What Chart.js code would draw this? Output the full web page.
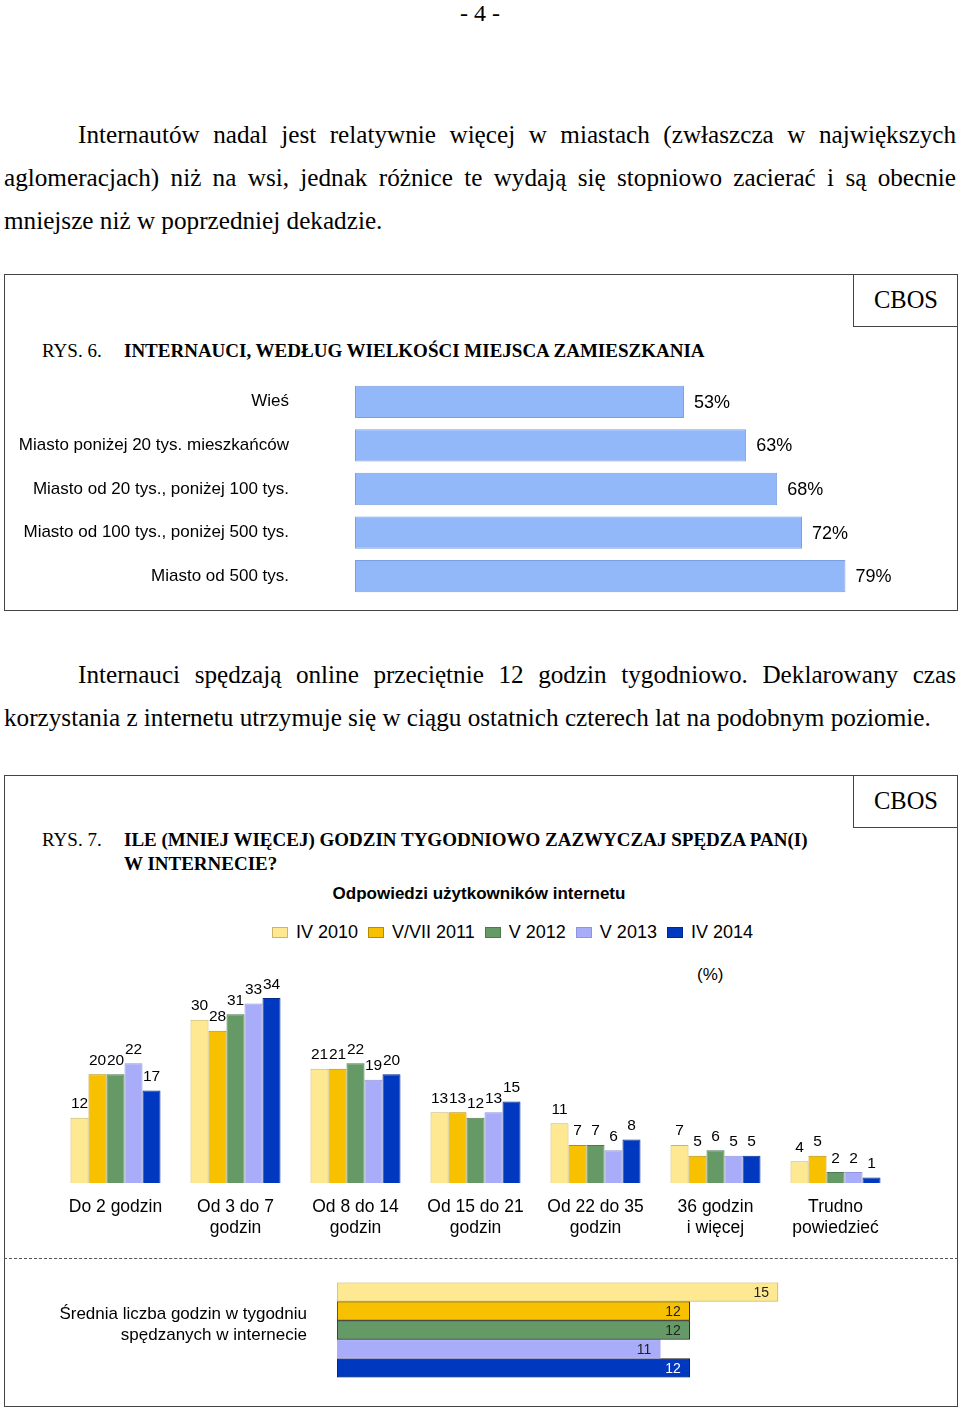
<!DOCTYPE html>
<html>
<head>
<meta charset="utf-8">
<script src="https://cdn.jsdelivr.net/npm/chart.js@4.4.0/dist/chart.umd.min.js"></script>
<style>
body { margin: 0; width: 960px; height: 1408px; position: relative; background: #fff; overflow: hidden;
       font-family: 'Liberation Serif', 'Times New Roman', serif; color: #000; }
.abs { position: absolute; }
.txt { position: absolute; left: 4px; width: 952px; font-size: 25.2px; line-height: 43px; height: 43px;
       text-align: justify; text-align-last: justify; }
.txt.first { left: 78px; width: 878px; }
.txt.last { text-align-last: left; }
.box { position: absolute; border: 1px solid #444; box-sizing: border-box; }
.cbos { position: absolute; border-left: 1px solid #444; border-bottom: 1px solid #444; box-sizing: border-box;
        font-size: 24.5px; text-align: center; }
.rys { position: absolute; left: 42px; font-size: 19px; line-height: 24px; }
.title { position: absolute; left: 124px; font-size: 19px; line-height: 24px; font-weight: bold; }
.sans { font-family: 'Liberation Sans', Arial, sans-serif; }
canvas { position: absolute; left: 0; }
#legend { position: absolute; left: 272px; top: 921px; height: 22px; display: flex; align-items: center;
          font-family: 'Liberation Sans', Arial, sans-serif; font-size: 18px; white-space: nowrap; }
#legend .sw { display: inline-block; width: 16px; height: 11px; box-sizing: border-box; border: 1px solid; margin-right: 8px; }
#legend .it { display: flex; align-items: center; margin-right: 10px; }
</style>
</head>
<body>

<div class="abs" style="left:0;width:960px;top:0;text-align:center;font-size:24px;line-height:26px;">- 4 -</div>

<div class="txt first" style="top:113px">Internautów nadal jest relatywnie więcej w miastach (zwłaszcza w największych</div>
<div class="txt" style="top:156px">aglomeracjach) niż na wsi, jednak różnice te wydają się stopniowo zacierać i są obecnie</div>
<div class="txt last" style="top:199px">mniejsze niż w poprzedniej dekadzie.</div>

<div class="box" style="left:4px;top:274px;width:954px;height:337px"></div>
<div class="cbos" style="left:853px;top:274px;width:105px;height:53px;line-height:52px">CBOS</div>
<div class="rys" style="top:339px">RYS. 6.</div>
<div class="title" style="top:339px">INTERNAUCI, WEDŁUG WIELKOŚCI MIEJSCA ZAMIESZKANIA</div>
<canvas id="placeChart" width="960" height="218" style="top:380px;width:960px;height:218px"></canvas>

<div class="txt first" style="top:653px">Internauci spędzają online przeciętnie 12 godzin tygodniowo. Deklarowany czas</div>
<div class="txt last" style="top:696px">korzystania z internetu utrzymuje się w ciągu ostatnich czterech lat na podobnym poziomie.</div>

<div class="box" style="left:4px;top:775px;width:954px;height:632px"></div>
<div class="cbos" style="left:853px;top:775px;width:105px;height:53px;line-height:52px">CBOS</div>
<div class="rys" style="top:828px">RYS. 7.</div>
<div class="title" style="top:828px">ILE (MNIEJ WIĘCEJ) GODZIN TYGODNIOWO ZAZWYCZAJ SPĘDZA PAN(I)<br>W INTERNECIE?</div>
<div class="abs sans" style="left:0;width:958px;top:884px;text-align:center;font-size:17px;font-weight:bold;line-height:20px">Odpowiedzi użytkowników internetu</div>
<div id="legend"></div>
<div class="abs sans" style="left:697px;top:964px;font-size:17px;line-height:22px">(%)</div>
<canvas id="hoursChart" width="960" height="305" style="top:940px;width:960px;height:305px"></canvas>

<div class="abs" style="left:4px;width:954px;top:1258px;border-top:1px dashed #555"></div>
<canvas id="avgChart" width="960" height="100" style="top:1280px;width:960px;height:100px"></canvas>

<script>
// RYS. 6 - internauci wg miejsca zamieszkania (%)
const placeLabels = ['Wieś', 'Miasto poniżej 20 tys. mieszkańców', 'Miasto od 20 tys., poniżej 100 tys.',
                     'Miasto od 100 tys., poniżej 500 tys.', 'Miasto od 500 tys.'];
const placeValues = [53, 63, 68, 72, 79];

// RYS. 7 - godziny tygodniowo w internecie (%)
const hourCategories = [['Do 2 godzin'], ['Od 3 do 7', 'godzin'], ['Od 8 do 14', 'godzin'], ['Od 15 do 21', 'godzin'],
                        ['Od 22 do 35', 'godzin'], ['36 godzin', 'i więcej'], ['Trudno', 'powiedzieć']];
const waves = ['IV 2010', 'V/VII 2011', 'V 2012', 'V 2013', 'IV 2014'];
const hours2010 = [12, 30, 21, 13, 11, 7, 4];
const hours2011 = [20, 28, 21, 13, 7, 5, 5];
const hours2012 = [20, 31, 22, 12, 7, 6, 2];
const hours2013 = [22, 33, 19, 13, 6, 5, 2];
const hours2014 = [17, 34, 20, 15, 8, 5, 1];

// srednia liczba godzin, kolejno IV 2010 ... IV 2014
const averageLabel = [['Średnia liczba godzin w tygodniu', 'spędzanych w internecie']];
const averageHours = [15, 12, 12, 11, 12];

const waveColors = ['#fee992', '#f7c100', '#659966', '#a9adf9', '#0039c0'];
const waveBorders = ['#c9b66a', '#b38c00', '#4b7a4d', '#8f94dc', '#002a90'];

Chart.defaults.font.family = "'Liberation Sans', Arial, sans-serif";
Chart.defaults.color = '#000';
Chart.defaults.animation = false;

// y-axis labels sit away from the bars, but the padding must not eat the height
function fixLeftAxis(width) {
    return function (scale) {
        scale.width = width;
        scale.paddingTop = 0;
        scale.paddingBottom = 0;
    };
}

// chart 1
new Chart(document.getElementById('placeChart'), {
    type: 'bar',
    data: {
        labels: placeLabels,
        datasets: [{
            data: placeValues,
            backgroundColor: '#93b8fa',
            borderColor: '#7c9fe0',
            borderWidth: 1,
            borderSkipped: false,
            barPercentage: 0.74,
            categoryPercentage: 1
        }]
    },
    options: {
        indexAxis: 'y',
        responsive: false,
        layout: { padding: { right: 9 } },
        plugins: { legend: { display: false }, tooltip: { enabled: false } },
        scales: {
            x: { display: false, min: 0, max: 96 },
            y: {
                grid: { display: false, drawTicks: false },
                border: { display: false },
                ticks: { font: { size: 17 }, padding: 66 },
                afterFit: fixLeftAxis(355)
            }
        }
    },
    plugins: [{
        id: 'pctLabels',
        afterDatasetsDraw(chart) {
            const ctx = chart.ctx;
            ctx.save();
            ctx.font = "18px 'Liberation Sans', Arial, sans-serif";
            ctx.fillStyle = '#000';
            ctx.textBaseline = 'middle';
            chart.getDatasetMeta(0).data.forEach((bar, i) => {
                ctx.fillText(placeValues[i] + '%', bar.x + 10, bar.y + 1);
            });
            ctx.restore();
        }
    }]
});

// chart 2
const hourSeries = [hours2010, hours2011, hours2012, hours2013, hours2014];

const legendBox = document.getElementById('legend');
waves.forEach((w, i) => {
    const item = document.createElement('span');
    item.className = 'it';
    const sw = document.createElement('span');
    sw.className = 'sw';
    sw.style.background = waveColors[i];
    sw.style.borderColor = waveBorders[i];
    item.appendChild(sw);
    item.appendChild(document.createTextNode(w));
    legendBox.appendChild(item);
});

new Chart(document.getElementById('hoursChart'), {
    type: 'bar',
    data: {
        labels: hourCategories,
        datasets: hourSeries.map((vals, i) => ({
            label: waves[i],
            data: vals,
            backgroundColor: waveColors[i],
            borderColor: waveBorders[i],
            borderWidth: 1,
            barPercentage: 1,
            categoryPercentage: 0.75
        }))
    },
    options: {
        responsive: false,
        layout: { padding: { left: 55.5, right: 64.5, top: 25.4 } },
        plugins: { legend: { display: false }, tooltip: { enabled: false } },
        scales: {
            y: { display: false, min: 0, max: 40 },
            x: {
                grid: { display: false, drawTicks: false },
                border: { display: false },
                ticks: { font: { size: 17.5, lineHeight: 1.22 }, padding: 13, maxRotation: 0 },
                afterFit: function (scale) { scale.height = 62; }
            }
        }
    },
    plugins: [{
        id: 'barValues',
        afterDatasetsDraw(chart) {
            const ctx = chart.ctx;
            ctx.save();
            ctx.font = "15.5px 'Liberation Sans', Arial, sans-serif";
            ctx.fillStyle = '#000';
            ctx.textAlign = 'center';
            ctx.textBaseline = 'bottom';
            hourSeries.forEach((vals, i) => {
                chart.getDatasetMeta(i).data.forEach((bar, j) => {
                    ctx.fillText(vals[j], bar.x, bar.y - 6);
                });
            });
            ctx.restore();
        }
    }]
});

// chart 3
new Chart(document.getElementById('avgChart'), {
    type: 'bar',
    data: {
        labels: averageLabel,
        datasets: averageHours.map((v, i) => ({
            label: waves[i],
            data: [v],
            backgroundColor: waveColors[i],
            borderColor: i === 3 ? waveColors[i] : (i === 0 ? '#c9b66a' : '#222'),
            borderWidth: 1,
            borderSkipped: false,
            barPercentage: 1,
            categoryPercentage: 1
        }))
    },
    options: {
        indexAxis: 'y',
        responsive: false,
        layout: { padding: { top: 2.5, bottom: 2.5, right: 35 } },
        plugins: { legend: { display: false }, tooltip: { enabled: false } },
        scales: {
            x: { display: false, min: 0, max: 20 },
            y: {
                grid: { display: false, drawTicks: false },
                border: { display: false },
                ticks: { font: { size: 17 }, padding: 30, labelOffset: -5 },
                afterFit: fixLeftAxis(337)
            }
        }
    },
    plugins: [{
        id: 'avgValues',
        afterDatasetsDraw(chart) {
            const ctx = chart.ctx;
            ctx.save();
            ctx.font = "14px 'Liberation Sans', Arial, sans-serif";
            ctx.textAlign = 'right';
            ctx.textBaseline = 'middle';
            averageHours.forEach((v, i) => {
                const bar = chart.getDatasetMeta(i).data[0];
                ctx.fillStyle = i === 4 ? '#fff' : '#222';
                ctx.fillText(v, bar.x - 9, bar.y + 1);
            });
            ctx.restore();
        }
    }]
});
</script>
</body>
</html>
